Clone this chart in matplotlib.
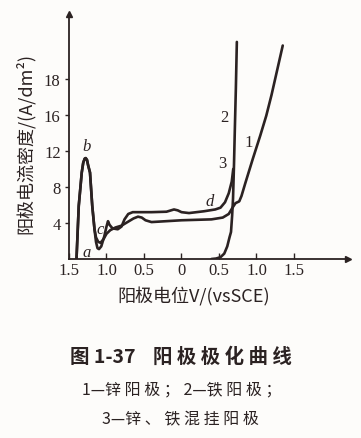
import matplotlib
matplotlib.use("Agg")
import matplotlib.pyplot as plt

plt.rcParams['font.family'] = ['Noto Sans CJK SC', 'DejaVu Sans']

# curve 1: zinc anode
x1 = [-1.40, -1.37, -1.33, -1.31, -1.29, -1.277, -1.26, -1.245, -1.22, -1.19, -1.16,
      -1.14, -1.11, -1.08, -1.04, -1.00, -0.95, -0.88, -0.80, -0.72, -0.64, -0.58, -0.53,
      -0.48, -0.40, -0.20, 0.00, 0.20, 0.40, 0.55, 0.63, 0.68, 0.72, 0.77, 0.80,
      0.85, 0.95, 1.05, 1.13, 1.20, 1.26, 1.35]
y1 = [0.0, 5.9, 9.6, 10.7, 11.15, 11.2, 11.0, 10.4, 9.6, 5.9, 3.3,
      2.4, 1.9, 1.8, 2.2, 2.8, 3.2, 3.5, 3.7, 4.1, 4.5, 4.7, 4.6,
      4.3, 4.1, 4.2, 4.3, 4.35, 4.4, 4.6, 5.0, 5.7, 6.2, 6.4, 7.0,
      8.4, 11.1, 13.7, 15.9, 18.2, 20.4, 23.7]

# curve 2: iron anode
x2 = [0.40, 0.46, 0.52, 0.57, 0.61, 0.64, 0.66, 0.675, 0.687, 0.70, 0.71, 0.725, 0.738]
y2 = [0.0, 0.05, 0.2, 0.6, 1.4, 2.4, 3.0, 4.8, 6.7, 10.5, 14.0, 19.0, 24.1]

# curve 3: zinc + iron
x3 = [-1.40, -1.37, -1.33, -1.31, -1.29, -1.277, -1.26, -1.245, -1.22, -1.19, -1.16,
      -1.14, -1.12, -1.10, -1.07, -1.03, -1.00, -0.98, -0.96, -0.92, -0.85, -0.80, -0.76,
      -0.71, -0.65, -0.40, -0.20, -0.10, -0.05, 0.00, 0.10, 0.30, 0.45, 0.52, 0.58,
      0.63, 0.67, 0.69]
y3 = [0.0, 5.9, 9.6, 10.7, 11.15, 11.2, 11.0, 10.4, 9.6, 5.9, 3.3,
      1.9, 1.2, 1.1, 1.4, 2.5, 3.6, 4.2, 3.8, 3.4, 3.3, 3.6, 4.4,
      5.0, 5.2, 5.2, 5.25, 5.5, 5.4, 5.2, 5.1, 5.3, 5.5, 5.7, 6.3,
      7.3, 8.6, 10.0]

xticks = [-1.5, -1.0, -0.5, 0.0, 0.5, 1.0, 1.5]
xlabels = ['1.5', '1.0', '0.5', '0', '0.5', '1.0', '1.5']
yticks = [4, 8, 12, 16, 20]
ylabels = ['4', '8', '12', '16', '18']

W, H = 361, 439
fig = plt.figure(figsize=(W / 100, H / 100), dpi=100)
fig.patch.set_facecolor('#fdfcfa')
ax = fig.add_axes([69 / W, 1 - 260 / H, (348 - 69) / W, (260 - 15) / H])
ax.set_facecolor('none')

ink = '#2b2222'
for xs, ys in [(x1, y1), (x2, y2), (x3, y3)]:
    ax.plot(xs, ys, color=ink, lw=1.9, solid_joinstyle='round', solid_capstyle='round')

ax.set_xlim(-1.5, 2.22)
ax.set_ylim(0, 27.2)
for s in ['top', 'right']:
    ax.spines[s].set_visible(False)
for s in ['left', 'bottom']:
    ax.spines[s].set_color(ink)
    ax.spines[s].set_linewidth(1.3)
ax.plot(1, 0, '>', color=ink, ms=5, transform=ax.transAxes, clip_on=False)
ax.plot(0, 1, '^', color=ink, ms=5, transform=ax.transAxes, clip_on=False)

ax.set_xticks(xticks)
ax.set_xticklabels(xlabels, family='Liberation Serif', fontsize=12, color=ink)
ax.set_yticks(yticks)
ax.set_yticklabels(ylabels, family='Liberation Serif', fontsize=12, color=ink)
ax.tick_params(axis='x', direction='in', length=4, width=1, color=ink, pad=2)
ax.tick_params(axis='y', direction='out', length=3, width=1, color=ink, pad=3)

lab = dict(family='Liberation Serif', fontsize=12, color=ink)
ax.text(-1.27, 12.5, 'b', style='italic', ha='center', va='center', **lab)
ax.text(-1.26, 0.75, 'a', style='italic', ha='center', va='center', **lab)
ax.text(-1.09, 3.3, 'c', style='italic', ha='center', va='center', **lab)
ax.text(0.37, 6.4, 'd', style='italic', ha='center', va='center', **lab)
ax.text(0.57, 15.8, '2', ha='center', va='center', **lab)
ax.text(0.54, 10.7, '3', ha='center', va='center', **lab)
ax.text(0.89, 13.0, '1', ha='center', va='center', **lab)

def ftext(x, y, s, **kw):
    fig.text(x / W, 1 - y / H, s, ha='center', va='center', color=ink, **kw)

ftext(25, 143, '阳极电流密度/(A/dm²)', rotation=90, fontsize=13)
ftext(194, 297, '阳极电位V/(vsSCE)', fontsize=13)
ftext(181, 357, '图 1-37    阳 极 极 化 曲 线', fontsize=14, fontweight='bold')
ftext(182, 390, '1—锌 阳 极 ； 2—铁 阳 极 ；', fontsize=11.5)
ftext(180, 420, '3—锌 、 铁 混 挂 阳 极', fontsize=11.5)

fig.savefig('out.png', dpi=100, facecolor=fig.get_facecolor())
